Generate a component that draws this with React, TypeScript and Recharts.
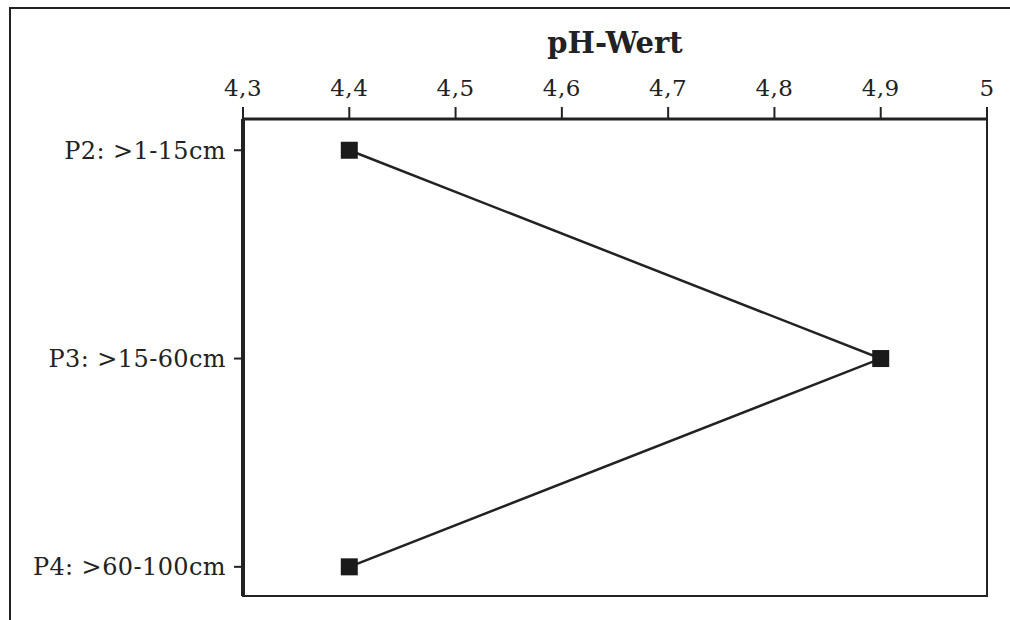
import { LineChart, Line, XAxis, YAxis, ReferenceArea } from "recharts";

const depths = ["P2: >1-15cm", "P3: >15-60cm", "P4: >60-100cm"];
const phValues = [4.4, 4.9, 4.4];
const phTicks = [4.3, 4.4, 4.5, 4.6, 4.7, 4.8, 4.9, 5.0];

const data = depths.map((name, i) => ({ name, pos: i, ph: phValues[i] }));

const FONT = "'DejaVu Serif', 'Liberation Serif', serif";

const SquareDot = (props: any) => {
  const { cx, cy } = props;
  if (cx == null || cy == null) return null;
  return <rect x={cx - 8.5} y={cy - 8.5} width={17} height={17} fill="#1a1a1a" />;
};

export default function App() {
  return (
    <div style={{ position: "absolute", left: 0, top: 0, width: 1010, height: 620, background: "#fff", overflow: "hidden" }}>
      {/* outer frame */}
      <div
        style={{
          position: "absolute",
          left: 9,
          top: 7,
          width: 1020,
          height: 640,
          borderLeft: "2px solid #222",
          borderTop: "2px solid #222",
        }}
      />
      <div style={{ position: "absolute", left: 0, top: 0 }}>
        <LineChart
          width={1010}
          height={620}
          data={data}
          layout="vertical"
          margin={{ top: 59, right: 23, bottom: 24, left: 0 }}
        >
          <ReferenceArea
            x1={4.3}
            x2={5}
            y1={-0.15}
            y2={2.14}
            fill="none"
            stroke="#222"
            strokeWidth={2}
            ifOverflow="visible"
          />
          <XAxis
            type="number"
            orientation="top"
            domain={[4.3, 5]}
            ticks={phTicks}
            tickFormatter={(v: number) => String(Number(v.toFixed(1))).replace(".", ",")}
            height={60}
            tickSize={12}
            tickMargin={11}
            axisLine={{ stroke: "#222", strokeWidth: 3 }}
            tickLine={{ stroke: "#222", strokeWidth: 2 }}
            tick={{ fill: "#222", fontSize: 23, fontFamily: FONT, letterSpacing: 0.5 }}
            label={{
              value: "pH-Wert",
              position: "top",
              offset: 6,
              fill: "#222",
              fontSize: 29,
              fontWeight: "bold",
              fontFamily: FONT,
            }}
          />
          <YAxis
            type="number"
            dataKey="pos"
            domain={[-0.15, 2.14]}
            ticks={[0, 1, 2]}
            tickFormatter={(v: number) => depths[v] ?? ""}
            width={243}
            tickSize={9}
            tickMargin={8}
            axisLine={{ stroke: "#222", strokeWidth: 4 }}
            tickLine={{ stroke: "#222", strokeWidth: 2 }}
            tick={{ fill: "#222", fontSize: 24, fontFamily: FONT, letterSpacing: 0.4 }}
          />
          <Line
            dataKey="ph"
            stroke="#222"
            strokeWidth={2.5}
            dot={<SquareDot />}
            activeDot={false}
            isAnimationActive={false}
          />
        </LineChart>
      </div>
    </div>
  );
}
